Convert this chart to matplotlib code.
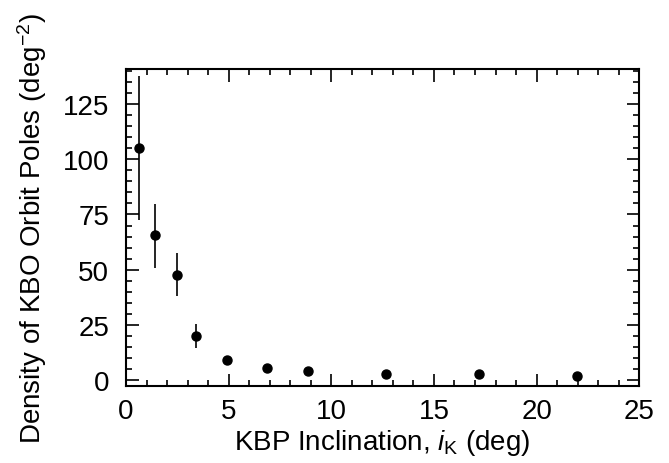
import matplotlib
matplotlib.use("Agg")
import matplotlib.pyplot as plt
from matplotlib.ticker import MultipleLocator

plt.rcParams['font.family'] = ['Liberation Sans', 'DejaVu Sans']
plt.rcParams['mathtext.fontset'] = 'custom'
plt.rcParams['mathtext.rm'] = 'Liberation Sans'
plt.rcParams['mathtext.it'] = 'Liberation Sans:italic'

inclination = [0.63, 1.43, 2.48, 3.40, 4.92, 6.89, 8.87, 12.65, 17.18, 21.95]
density = [105.2, 65.5, 47.7, 19.9, 9.1, 5.45, 3.8, 2.7, 2.6, 1.7]
err_low = [32.6, 14.9, 9.5, 5.5, 2.3, 0.0, 0.0, 0.0, 0.0, 0.0]
err_high = [32.7, 14.3, 9.8, 5.3, 1.8, 0.0, 0.0, 0.0, 0.0, 0.0]

fig = plt.figure(figsize=(6.69, 4.64), dpi=100)
ax = fig.add_axes([0.1883, 0.1666, 0.7673, 0.6824])

ax.errorbar(inclination, density, yerr=[err_low, err_high], fmt='o', color='black',
            markersize=6.5, elinewidth=1.2, capsize=0)

ax.set_xlim(0, 25)
ax.set_ylim(-2.7, 141)
ax.xaxis.set_major_locator(MultipleLocator(5))
ax.xaxis.set_minor_locator(MultipleLocator(1))
ax.yaxis.set_major_locator(MultipleLocator(25))
ax.yaxis.set_minor_locator(MultipleLocator(5))
ax.tick_params(which='both', direction='in', top=True, right=True, labelsize=20, width=1.2)
ax.tick_params(which='major', length=9)
ax.tick_params(axis='x', which='major', pad=9)
ax.tick_params(axis='y', which='major', pad=12)
ax.tick_params(which='minor', length=4.5)
for s in ax.spines.values():
    s.set_linewidth(1.5)

ax.set_xlabel(r'KBP Inclination, $i_{\rm K}$ (deg)', fontsize=20, labelpad=2)
ax.set_ylabel(r'Density of KBO Orbit Poles (deg$^{-2}$)', fontsize=20, labelpad=10)

fig.savefig('out.png', dpi=100)
